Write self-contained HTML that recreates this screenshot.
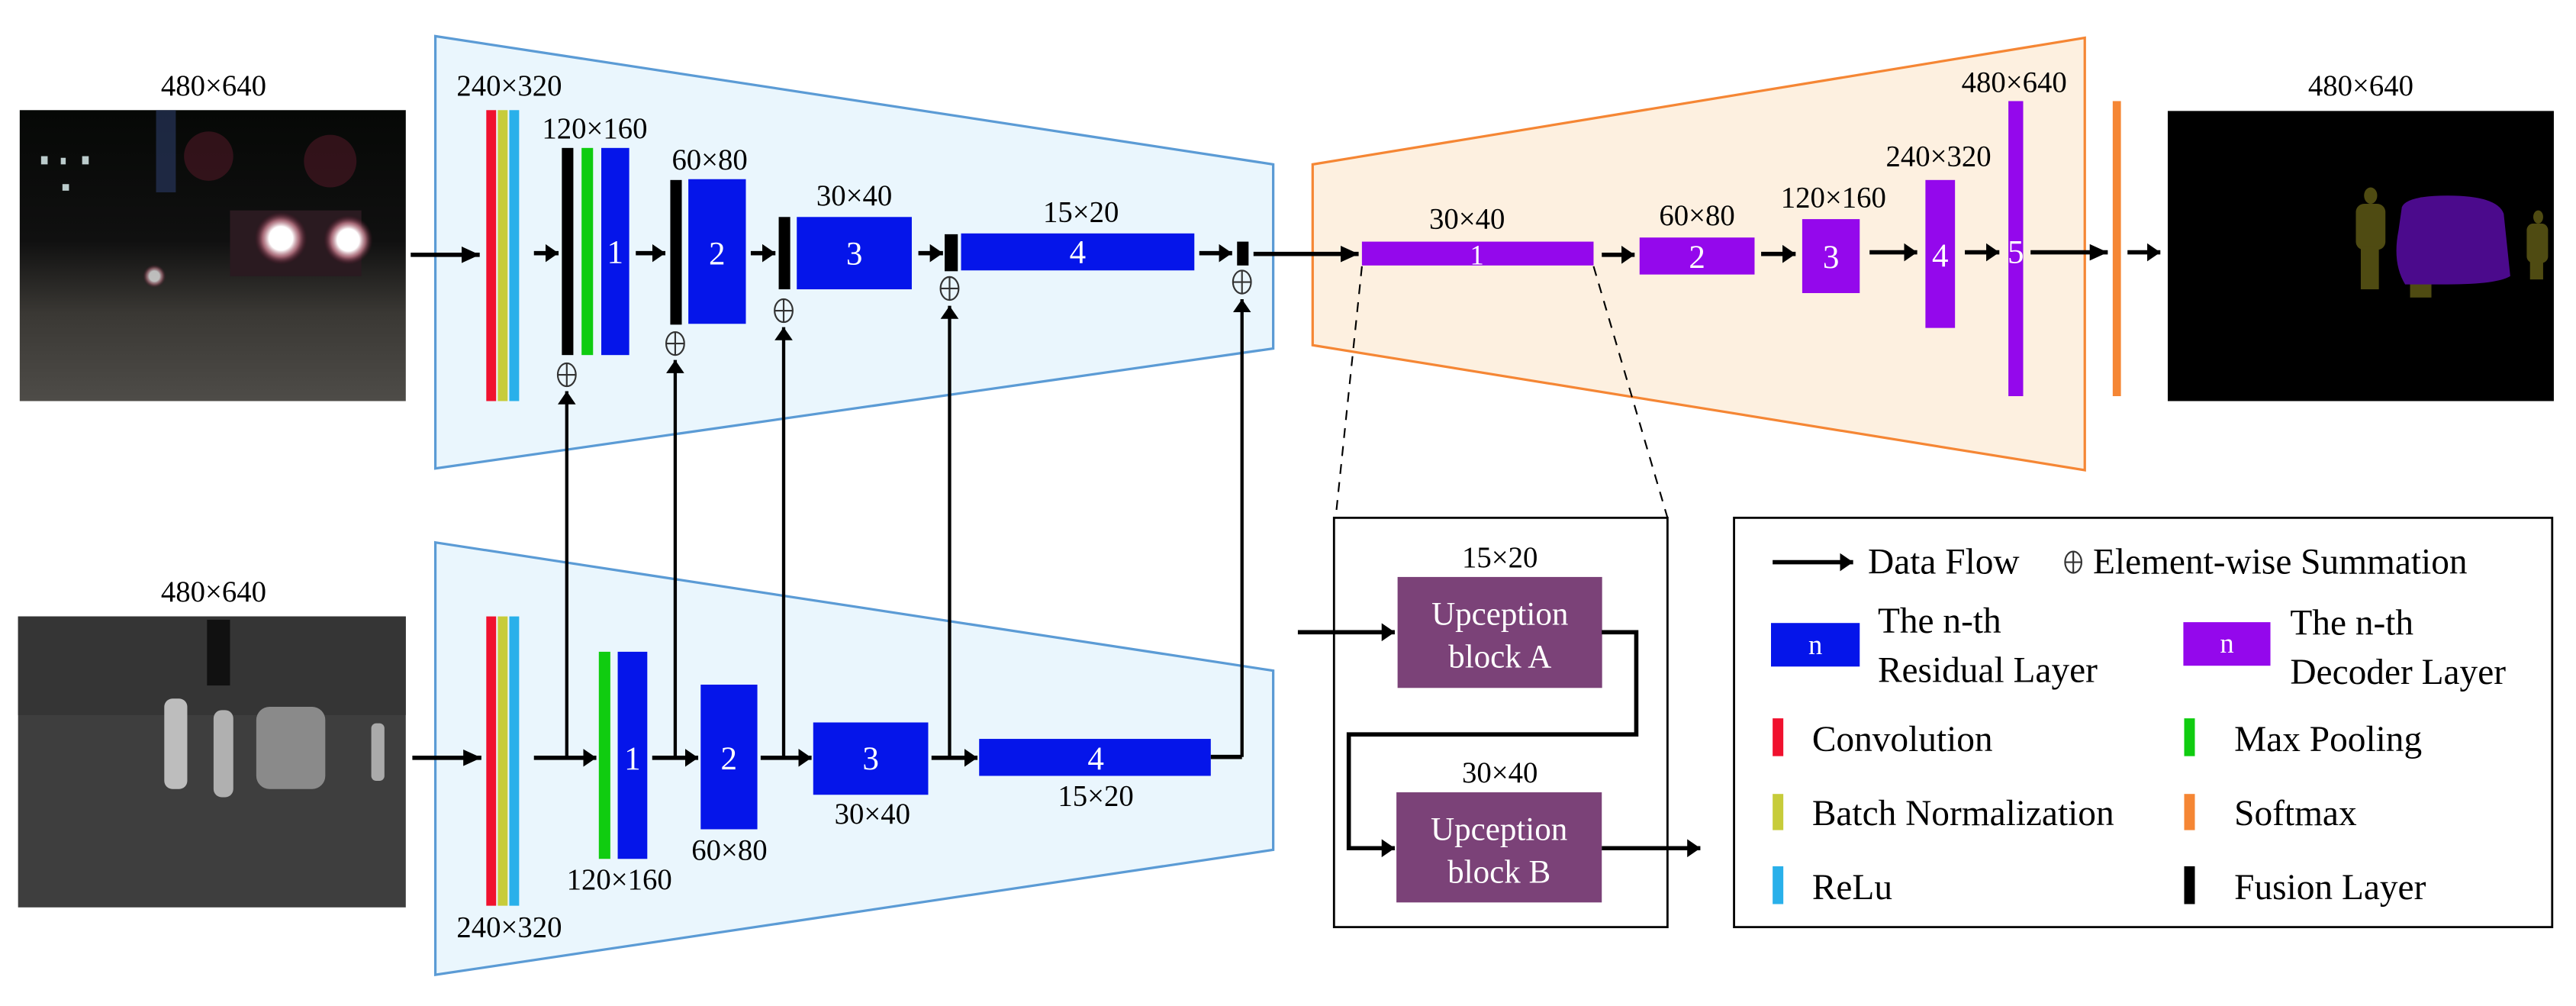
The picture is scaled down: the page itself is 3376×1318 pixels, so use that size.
<!DOCTYPE html>
<html><head><meta charset="utf-8"><style>
html,body{margin:0;padding:0;background:#fff;}
svg{display:block;}
text{font-family:"Liberation Serif",serif;}
</style></head><body>
<svg width="3376" height="1318" viewBox="0 0 1568 612" preserveAspectRatio="none" xmlns="http://www.w3.org/2000/svg">
<defs>
<marker id="ah" markerUnits="userSpaceOnUse" markerWidth="11" markerHeight="10" refX="11" refY="5" orient="auto"><path d="M0,0 L11,5 L0,10 z" fill="#000"/></marker>
<marker id="ahs" markerUnits="userSpaceOnUse" markerWidth="8" markerHeight="11" refX="8" refY="5.5" orient="auto"><path d="M0,0 L8,5.5 L0,11 z" fill="#000"/></marker>
<radialGradient id="hl" cx="0.5" cy="0.5" r="0.5"><stop offset="0" stop-color="#fff"/><stop offset="0.45" stop-color="#fff"/><stop offset="0.7" stop-color="#d88a9a" stop-opacity="0.7"/><stop offset="1" stop-color="#601028" stop-opacity="0"/></radialGradient>
<linearGradient id="road" x1="0" y1="0" x2="0" y2="1"><stop offset="0" stop-color="#060806"/><stop offset="0.45" stop-color="#101010"/><stop offset="0.7" stop-color="#3a3834"/><stop offset="1" stop-color="#4e4c48"/></linearGradient>
</defs>

<!-- Images -->
<text x="130" y="58" font-size="18" text-anchor="middle">480×640</text>
<rect x="12" y="67" width="235" height="177" fill="url(#road)"/>
<rect x="95" y="67" width="12" height="50" fill="#27345a" opacity="0.7"/>
<circle cx="127" cy="95" r="15" fill="#5a1a2a" opacity="0.5"/>
<circle cx="201" cy="98" r="16" fill="#5a1a2a" opacity="0.5"/>
<rect x="140" y="128" width="80" height="40" fill="#2a1a20"/>
<circle cx="171" cy="145" r="16" fill="url(#hl)"/>
<circle cx="212" cy="146" r="15" fill="url(#hl)"/>
<circle cx="94" cy="168" r="7" fill="url(#hl)" opacity="0.7"/>
<rect x="25" y="95" width="4" height="5" fill="#bcc"/><rect x="37" y="96" width="3" height="4" fill="#bcc"/><rect x="50" y="95" width="4" height="5" fill="#bcc"/><rect x="38" y="112" width="4" height="4" fill="#bcc"/>

<text x="130" y="366" font-size="18" text-anchor="middle">480×640</text>
<rect x="11" y="375" width="236" height="177" fill="#3e3e3e"/>
<rect x="11" y="375" width="236" height="60" fill="#353535"/>
<rect x="126" y="377" width="14" height="40" fill="#111"/>
<rect x="100" y="425" width="14" height="55" fill="#bdbdbd" rx="5"/>
<rect x="130" y="432" width="12" height="53" fill="#b0b0b0" rx="5"/>
<rect x="156" y="430" width="42" height="50" fill="#8a8a8a" rx="8"/>
<rect x="226" y="440" width="8" height="35" fill="#aaa" rx="3"/>

<!-- Encoder trapezoids -->
<polygon points="265,22 775,100 775,212 265,285" fill="#eaf6fd" stroke="#5b9bd5" stroke-width="1.5"/>
<polygon points="265,330 775,408 775,517 265,593" fill="#eaf6fd" stroke="#5b9bd5" stroke-width="1.5"/>

<!-- Decoder trapezoid -->
<polygon points="799,100 1269,23 1269,286 799,210" fill="#fdf0e0" stroke="#f58634" stroke-width="1.5"/>

<!-- Top encoder -->
<text x="310" y="58" font-size="18" text-anchor="middle">240×320</text>
<rect x="296" y="67" width="6" height="177" fill="#f0112e"/>
<rect x="303" y="67" width="6" height="177" fill="#c7cc3a"/>
<rect x="310" y="67" width="6" height="177" fill="#29b0ea"/>
<line x1="250" y1="155" x2="292" y2="155" stroke="#000" stroke-width="2.6" marker-end="url(#ah)"/>
<line x1="325" y1="154" x2="340" y2="154" stroke="#000" stroke-width="2.6" marker-end="url(#ahs)"/>
<text x="362" y="84" font-size="18" text-anchor="middle">120×160</text>
<rect x="342" y="90" width="7" height="126" fill="#000"/>
<rect x="354" y="90" width="7" height="126" fill="#10cc10"/>
<rect x="366" y="90" width="17" height="126" fill="#0515ea"/>
<text x="374.5" y="160" font-size="20" fill="#fff" text-anchor="middle">1</text>
<line x1="387" y1="154" x2="405" y2="154" stroke="#000" stroke-width="2.6" marker-end="url(#ahs)"/>
<text x="432" y="103" font-size="18" text-anchor="middle">60×80</text>
<rect x="408" y="109.5" width="7" height="88" fill="#000"/>
<rect x="419" y="109" width="35" height="88" fill="#0515ea"/>
<text x="436.5" y="161" font-size="20" fill="#fff" text-anchor="middle">2</text>
<line x1="457" y1="154" x2="472" y2="154" stroke="#000" stroke-width="2.6" marker-end="url(#ahs)"/>
<text x="520" y="125" font-size="18" text-anchor="middle">30×40</text>
<rect x="474" y="132" width="7" height="44" fill="#000"/>
<rect x="485" y="132" width="70" height="44" fill="#0515ea"/>
<text x="520" y="161" font-size="20" fill="#fff" text-anchor="middle">3</text>
<line x1="559" y1="154" x2="574" y2="154" stroke="#000" stroke-width="2.6" marker-end="url(#ahs)"/>
<text x="658" y="135" font-size="18" text-anchor="middle">15×20</text>
<rect x="575" y="142.5" width="8" height="22.5" fill="#000"/>
<rect x="585" y="142" width="142" height="22.5" fill="#0515ea"/>
<text x="656" y="160" font-size="20" fill="#fff" text-anchor="middle">4</text>
<line x1="730" y1="154" x2="750" y2="154" stroke="#000" stroke-width="2.6" marker-end="url(#ahs)"/>
<rect x="753" y="147" width="7" height="14.5" fill="#000"/>
<line x1="763" y1="154.5" x2="827" y2="154.5" stroke="#000" stroke-width="2.6" marker-end="url(#ah)"/>

<!-- sum symbols -->
<g fill="none" stroke="#333" stroke-width="1">
<ellipse cx="345" cy="228" rx="5.5" ry="7"/><line x1="345" y1="221" x2="345" y2="235"/><line x1="339.5" y1="228" x2="350.5" y2="228"/>
<ellipse cx="411" cy="209" rx="5.5" ry="7"/><line x1="411" y1="202" x2="411" y2="216"/><line x1="405.5" y1="209" x2="416.5" y2="209"/>
<ellipse cx="477" cy="189" rx="5.5" ry="7"/><line x1="477" y1="182" x2="477" y2="196"/><line x1="471.5" y1="189" x2="482.5" y2="189"/>
<ellipse cx="578" cy="175.5" rx="5.5" ry="7"/><line x1="578" y1="168.5" x2="578" y2="182.5"/><line x1="572.5" y1="175.5" x2="583.5" y2="175.5"/>
<ellipse cx="756" cy="171.6" rx="5.5" ry="7"/><line x1="756" y1="164.6" x2="756" y2="178.6"/><line x1="750.5" y1="171.6" x2="761.5" y2="171.6"/>
</g>

<!-- vertical fusion arrows -->
<g stroke="#000" stroke-width="2">
<line x1="345" y1="461" x2="345" y2="238" marker-end="url(#ahs)"/>
<line x1="411" y1="461" x2="411" y2="219" marker-end="url(#ahs)"/>
<line x1="477" y1="461" x2="477" y2="199" marker-end="url(#ahs)"/>
<line x1="578" y1="461" x2="578" y2="186" marker-end="url(#ahs)"/>
<line x1="756" y1="460.5" x2="756" y2="182" marker-end="url(#ahs)"/>
</g>

<!-- Bottom encoder -->
<rect x="296" y="375" width="6" height="176" fill="#f0112e"/>
<rect x="303" y="375" width="6" height="176" fill="#c7cc3a"/>
<rect x="310" y="375" width="6" height="176" fill="#29b0ea"/>
<text x="310" y="570" font-size="18" text-anchor="middle">240×320</text>
<line x1="251" y1="461" x2="293" y2="461" stroke="#000" stroke-width="2.6" marker-end="url(#ah)"/>
<line x1="325" y1="461" x2="363" y2="461" stroke="#000" stroke-width="2.6" marker-end="url(#ahs)"/>
<rect x="364.5" y="396.5" width="7" height="126" fill="#10cc10"/>
<rect x="376" y="396.5" width="18" height="126" fill="#0515ea"/>
<text x="385" y="468" font-size="20" fill="#fff" text-anchor="middle">1</text>
<text x="377" y="541" font-size="18" text-anchor="middle">120×160</text>
<line x1="397" y1="461" x2="425" y2="461" stroke="#000" stroke-width="2.6" marker-end="url(#ahs)"/>
<rect x="426.5" y="416.5" width="34.5" height="88" fill="#0515ea"/>
<text x="443.7" y="468" font-size="20" fill="#fff" text-anchor="middle">2</text>
<text x="444" y="523" font-size="18" text-anchor="middle">60×80</text>
<line x1="463" y1="461" x2="494" y2="461" stroke="#000" stroke-width="2.6" marker-end="url(#ahs)"/>
<rect x="495" y="439.5" width="70" height="44" fill="#0515ea"/>
<text x="530" y="468" font-size="20" fill="#fff" text-anchor="middle">3</text>
<text x="531" y="501" font-size="18" text-anchor="middle">30×40</text>
<line x1="567" y1="461" x2="595" y2="461" stroke="#000" stroke-width="2.6" marker-end="url(#ahs)"/>
<rect x="596" y="449.5" width="141" height="22.5" fill="#0515ea"/>
<text x="667" y="468" font-size="20" fill="#fff" text-anchor="middle">4</text>
<text x="667" y="490" font-size="18" text-anchor="middle">15×20</text>
<polyline points="737,460.5 756,460.5" fill="none" stroke="#000" stroke-width="2.6"/>

<!-- Decoder -->
<text x="893" y="139" font-size="18" text-anchor="middle">30×40</text>
<rect x="829" y="147" width="141" height="14.5" fill="#9408ec"/>
<text x="899" y="161" font-size="17" fill="#fff" text-anchor="middle">1</text>
<line x1="975" y1="155" x2="995" y2="155" stroke="#000" stroke-width="2.6" marker-end="url(#ahs)"/>
<text x="1033" y="137" font-size="18" text-anchor="middle">60×80</text>
<rect x="998" y="144.5" width="70" height="22.5" fill="#9408ec"/>
<text x="1033" y="163" font-size="20" fill="#fff" text-anchor="middle">2</text>
<line x1="1072" y1="154.5" x2="1093" y2="154.5" stroke="#000" stroke-width="2.6" marker-end="url(#ahs)"/>
<text x="1116" y="126" font-size="18" text-anchor="middle">120×160</text>
<rect x="1097" y="133.3" width="35" height="45" fill="#9408ec"/>
<text x="1114.5" y="163" font-size="20" fill="#fff" text-anchor="middle">3</text>
<line x1="1138" y1="153.5" x2="1167" y2="153.5" stroke="#000" stroke-width="2.6" marker-end="url(#ahs)"/>
<text x="1180" y="101" font-size="18" text-anchor="middle">240×320</text>
<rect x="1172" y="109.5" width="18" height="90" fill="#9408ec"/>
<text x="1181" y="162" font-size="20" fill="#fff" text-anchor="middle">4</text>
<line x1="1196" y1="153.5" x2="1217" y2="153.5" stroke="#000" stroke-width="2.6" marker-end="url(#ahs)"/>
<text x="1226" y="56" font-size="18" text-anchor="middle">480×640</text>
<rect x="1222.5" y="61.5" width="9" height="179.5" fill="#9408ec"/>
<text x="1227" y="160" font-size="20" fill="#fff" text-anchor="middle">5</text>
<line x1="1236" y1="153.5" x2="1283" y2="153.5" stroke="#000" stroke-width="2.6" marker-end="url(#ah)"/>
<rect x="1286" y="61.5" width="5" height="179.5" fill="#f58634"/>
<line x1="1295" y1="153.5" x2="1315" y2="153.5" stroke="#000" stroke-width="2.6" marker-end="url(#ahs)"/>

<!-- Output -->
<text x="1437" y="58" font-size="18" text-anchor="middle">480×640</text>
<rect x="1319.5" y="67.5" width="235" height="176.5" fill="#000"/>
<g fill="#4f4b12">
<ellipse cx="1443" cy="119" rx="4" ry="5"/><rect x="1434" y="124" width="18" height="28" rx="5"/><rect x="1437" y="150" width="11" height="26"/>
<ellipse cx="1474" cy="125" rx="3.5" ry="5"/><rect x="1464" y="130" width="22" height="33" rx="5"/><rect x="1467" y="160" width="13" height="21"/>
<ellipse cx="1545" cy="132" rx="3" ry="4"/><rect x="1538" y="136" width="13" height="24" rx="4"/><rect x="1540" y="158" width="8" height="12"/>
</g>
<path d="M1462,126 Q1465,119 1490,119 Q1520,119 1524,130 L1528,168 Q1520,173 1490,173 L1464,173 Q1456,160 1460,140 Z" fill="#4b0a8c"/>

<!-- Dashed zoom lines -->
<line x1="829" y1="162" x2="813" y2="315" stroke="#000" stroke-width="1" stroke-dasharray="6,5"/>
<line x1="970" y1="162" x2="1015" y2="315" stroke="#000" stroke-width="1" stroke-dasharray="6,5"/>

<!-- Upception box -->
<rect x="812" y="315" width="203" height="249" fill="#fff" stroke="#000" stroke-width="1.3"/>
<text x="913" y="345" font-size="18" text-anchor="middle">15×20</text>
<rect x="850.7" y="351" width="124.5" height="67.5" fill="#7b4278"/>
<text x="913" y="380" font-size="20" fill="#fff" text-anchor="middle">Upception</text>
<text x="913" y="406" font-size="20" fill="#fff" text-anchor="middle">block A</text>
<line x1="790" y1="384.6" x2="849" y2="384.6" stroke="#000" stroke-width="2.6" marker-end="url(#ahs)"/>
<polyline points="975,384.6 996,384.6 996,446.8 821,446.8 821,516 849,516" fill="none" stroke="#000" stroke-width="2.6" marker-end="url(#ahs)"/>
<text x="913" y="476" font-size="18" text-anchor="middle">30×40</text>
<rect x="850" y="482" width="125" height="67" fill="#7b4278"/>
<text x="912.5" y="511" font-size="20" fill="#fff" text-anchor="middle">Upception</text>
<text x="912.5" y="537" font-size="20" fill="#fff" text-anchor="middle">block B</text>
<line x1="975" y1="516" x2="1035" y2="516" stroke="#000" stroke-width="2.6" marker-end="url(#ahs)"/>

<!-- Legend -->
<rect x="1055.5" y="315" width="498" height="249" fill="#fff" stroke="#000" stroke-width="1.3"/>
<line x1="1079" y1="342" x2="1128" y2="342" stroke="#000" stroke-width="2.6" marker-end="url(#ahs)"/>
<text x="1137" y="349" font-size="22">Data Flow</text>
<g fill="none" stroke="#333" stroke-width="1"><ellipse cx="1262" cy="342" rx="5" ry="6.5"/><line x1="1262" y1="335.5" x2="1262" y2="348.5"/><line x1="1257" y1="342" x2="1267" y2="342"/></g>
<text x="1274" y="349" font-size="22">Element-wise Summation</text>
<rect x="1078" y="379" width="54" height="26.5" fill="#0515ea"/>
<text x="1105" y="398" font-size="17" fill="#fff" text-anchor="middle">n</text>
<text x="1143" y="385" font-size="22">The n-th</text>
<text x="1143" y="415" font-size="22">Residual Layer</text>
<rect x="1329" y="378.5" width="53" height="26.5" fill="#9408ec"/>
<text x="1355.5" y="397" font-size="17" fill="#fff" text-anchor="middle">n</text>
<text x="1394" y="386" font-size="22">The n-th</text>
<text x="1394" y="416" font-size="22">Decoder Layer</text>
<rect x="1079" y="437" width="6.5" height="23" fill="#f0112e"/>
<text x="1103" y="457" font-size="22">Convolution</text>
<rect x="1329.5" y="437" width="6.5" height="23" fill="#10cc10"/>
<text x="1360" y="457" font-size="22">Max Pooling</text>
<rect x="1079" y="483" width="6.5" height="22" fill="#c7cc3a"/>
<text x="1103" y="502" font-size="22">Batch Normalization</text>
<rect x="1329.5" y="483" width="6.5" height="22" fill="#f58634"/>
<text x="1360" y="502" font-size="22">Softmax</text>
<rect x="1079" y="527" width="6.5" height="23" fill="#29b0ea"/>
<text x="1103" y="547" font-size="22">ReLu</text>
<rect x="1329.5" y="527" width="6.5" height="23" fill="#000"/>
<text x="1360" y="547" font-size="22">Fusion Layer</text>
</svg>
</body></html>
